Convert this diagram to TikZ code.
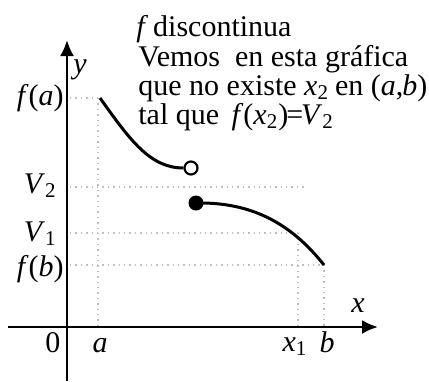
\documentclass[tikz,border=0pt]{standalone}
\usepackage{fontspec}
\setmainfont{Liberation Serif}
\usetikzlibrary{positioning,arrows.meta}
\newcommand{\mv}[1]{\textit{#1}}
\begin{document}
\begin{tikzpicture}[
          x=0.5pt, y=-0.5pt,
          lbl/.style={font=\fontsize{15}{15}\selectfont, inner sep=0pt},
          axis/.style={-{Latex[length=8pt,width=7pt]}, line width=1.2pt},
          curve/.style={line width=1.5pt},
          guide/.style={dotted, black!25, line width=0.7pt},
          opendot/.style={circle, draw, line width=1.1pt, fill=white, minimum size=6.5pt, inner sep=0pt},
          fulldot/.style={circle, fill, minimum size=7.5pt, inner sep=0pt}
      ]
        \useasboundingbox (0,0) rectangle (429,381);
        % points of the graph
        \coordinate (A) at (100,98);
        \coordinate (B) at (324,265);
        \coordinate (ya) at (70,98);
        \coordinate (y2) at (70,187);
        \coordinate (y1) at (70,233);
        \coordinate (yb) at (70,265);
        \coordinate (x2e) at (305,187);
        \coordinate (X1) at (298,233);
        \coordinate (xa) at (98,327);
        \coordinate (xx1) at (298,327);
        \coordinate (xb) at (324,327);
        \coordinate (aa) at (98,98);
        % guides
        \draw[guide] (ya) -- (A);
        \draw[guide] (aa) -- (xa);
        \draw[guide] (y2) -- (x2e);
        \draw[guide] (y1) -- (X1);
        \draw[guide] (yb) -- (B);
        \draw[guide] (X1) -- (xx1);
        \draw[guide] (B) -- (xb);
        % axes
        \coordinate (xs) at (8,327);
        \coordinate (xe) at (378,327);
        \coordinate (ys) at (67,381);
        \coordinate (ye) at (67,40);
        \draw[axis] (xs) -- (xe);
        \draw[axis] (ys) -- (ye);
        % the two pieces of f
        \node[opendot] (open) at (191,168) {};
        \node[fulldot] (full) at (196,203) {};
        \draw[curve] (A) .. controls (130,140) and (150,168) .. (open.west);
        \draw[curve] (full.center) .. controls (250,202) and (290,222) .. (B);
        % labels
        \node[lbl, anchor=base] (ly) at (80,73) {\mv{y}};
        \node[lbl, anchor=base] (lx) at (358,312) {\mv{x}};
        \node[lbl, anchor=base east] (lfa) at (64,105) {\mv{f}(\mv{a})};
        \node[lbl, anchor=base east] (lv2) at (57,193) {\mv{V}\textsubscript{2}};
        \node[lbl, anchor=base east] (lv1) at (57,241) {\mv{V}\textsubscript{1}};
        \node[lbl, anchor=base east] (lfb) at (64,276) {\mv{f}(\mv{b})};
        \node[lbl, anchor=base] (l0) at (53,352) {0};
        \node[lbl, anchor=base] (la) at (100,352) {\mv{a}};
        \node[lbl, anchor=base] (lx1) at (295,351) {\mv{x}\textsubscript{1}};
        \node[lbl, anchor=base] (lb) at (327,352) {\mv{b}};
        % comment on the graph
        \node[lbl, anchor=base west] (t1) at (136,36) {\mv{f}\,discontinua};
        \node[lbl, anchor=base west] (t2) at (138,66) {Vemos\ \ en esta gráfica};
        \node[lbl, anchor=base west] (t3) at (138,95)
             {que no existe \mv{x}\textsubscript{2}\kern3pt en (\mv{a},\kern-0.5pt\mv{b})};
        \node[lbl, anchor=base west] (t4) at (138,124)
             {tal que\ \,\mv{f}(\mv{x}\textsubscript{2})\kern-1pt=\kern-1pt\mv{V}\textsubscript{2}};
      \end{tikzpicture}
\end{document}
